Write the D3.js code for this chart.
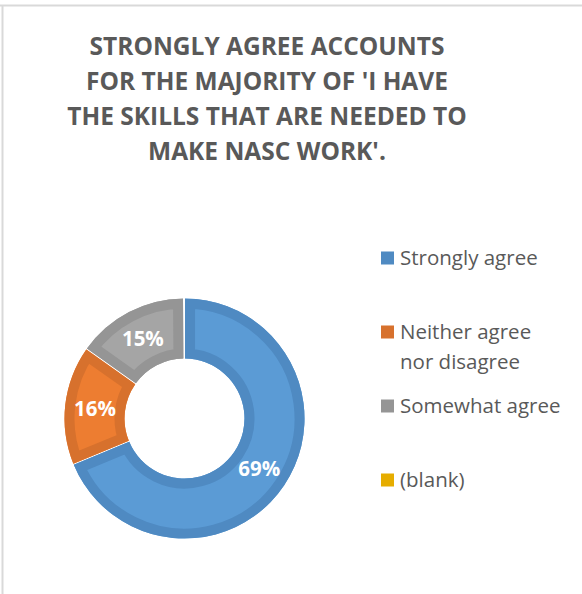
<!DOCTYPE html>
<html>
<head>
<meta charset="utf-8">
<script src="https://cdn.jsdelivr.net/npm/d3@7"></script>
<style>
  html, body { margin: 0; padding: 0; background: #fff; }
  svg { display: block; }
</style>
</head>
<body>
<svg id="chart" width="582" height="594"></svg>
<script>
// Survey responses to "I have the skills that are needed to make NASC work"
const categories = ["Strongly agree", "Neither agree nor disagree", "Somewhat agree", "(blank)"];
const values = [69, 16, 15, 0];
const legendLines = [["Strongly agree"], ["Neither agree", "nor disagree"], ["Somewhat agree"], ["(blank)"]];
const titleLines = [
  "STRONGLY AGREE ACCOUNTS",
  "FOR THE MAJORITY OF 'I HAVE",
  "THE SKILLS THAT ARE NEEDED TO",
  "MAKE NASC WORK'."
];
const fillColors = ["#5b9bd5", "#ed7d31", "#a5a5a5", "#ffc000"];
const edgeColors = ["#4f8ac2", "#d7712d", "#959595", "#e6ad00"];

const data = categories.map((c, i) => ({ category: c, value: values[i] }));

const svg = d3.select("#chart");
const W = 582, H = 594;

// chart area frame
svg.append("rect").attr("x", 0).attr("y", 0).attr("width", W).attr("height", H).attr("fill", "#fff");
svg.append("line").attr("x1", 0).attr("x2", W).attr("y1", 5.5).attr("y2", 5.5)
  .attr("stroke", "#d9d9d9").attr("stroke-width", 2);
svg.append("line").attr("x1", 2.5).attr("x2", 2.5).attr("y1", 5).attr("y2", H)
  .attr("stroke", "#d9d9d9").attr("stroke-width", 2);

// title
const title = svg.append("text")
  .attr("text-anchor", "middle")
  .attr("font-family", "'Open Sans', sans-serif")
  .attr("font-weight", 700)
  .attr("font-size", 24.5)
  .attr("letter-spacing", 0)
  .attr("fill", "#595959");
titleLines.forEach((t, i) => {
  title.append("tspan").attr("x", 267).attr("y", 55 + i * 35).text(t);
});

// donut
const cx = 184.5, cy = 418.5;
const rOuter = 120, rInner = 60;
const pie = d3.pie().sort(null).value(d => d.value).padAngle(0.008);
const arc = d3.arc().innerRadius(rInner).outerRadius(rOuter);
const labelArc = d3.arc().innerRadius((rInner + rOuter) / 2).outerRadius((rInner + rOuter) / 2);
const color = d3.scaleOrdinal().domain(categories).range(fillColors);
const edge = d3.scaleOrdinal().domain(categories).range(edgeColors);

const arcs = pie(data).filter(d => d.data.value > 0);
const g = svg.append("g").attr("transform", `translate(${cx},${cy})`);
const defs = svg.append("defs");

arcs.forEach((d, i) => {
  const id = "slice-clip-" + i;
  defs.append("clipPath").attr("id", id).append("path").attr("d", arc(d));
  const sg = g.append("g");
  sg.append("path").attr("d", arc(d)).attr("fill", color(d.data.category));
  // darker inner rim of each slice
  sg.append("path").attr("d", arc(d))
    .attr("fill", "none")
    .attr("stroke", edge(d.data.category))
    .attr("stroke-width", 20)
    .attr("stroke-linejoin", "miter")
    .attr("clip-path", `url(#${id})`);
});

g.selectAll("text.value")
  .data(arcs)
  .join("text")
  .attr("class", "value")
  .attr("transform", d => `translate(${labelArc.centroid(d)})`)
  .attr("text-anchor", "middle")
  .attr("dy", "0.36em")
  .attr("font-family", "'Open Sans', sans-serif")
  .attr("font-weight", 700)
  .attr("font-size", 20.5)
  .attr("fill", "#fff")
  .text(d => d.data.value + "%");

// legend
const legendBaselines = [265, 339, 413, 487];
const legend = svg.append("g");
data.forEach((d, i) => {
  const y = legendBaselines[i];
  legend.append("rect")
    .attr("x", 381).attr("y", y - 13.5)
    .attr("width", 13).attr("height", 13)
    .attr("fill", edge(d.category));
  const t = legend.append("text")
    .attr("font-family", "'Open Sans', sans-serif")
    .attr("font-size", 20.5)
    .attr("fill", "#595959");
  legendLines[i].forEach((line, j) => {
    t.append("tspan").attr("x", 400).attr("y", y + j * 29.5).text(line);
  });
});
</script>
</body>
</html>
